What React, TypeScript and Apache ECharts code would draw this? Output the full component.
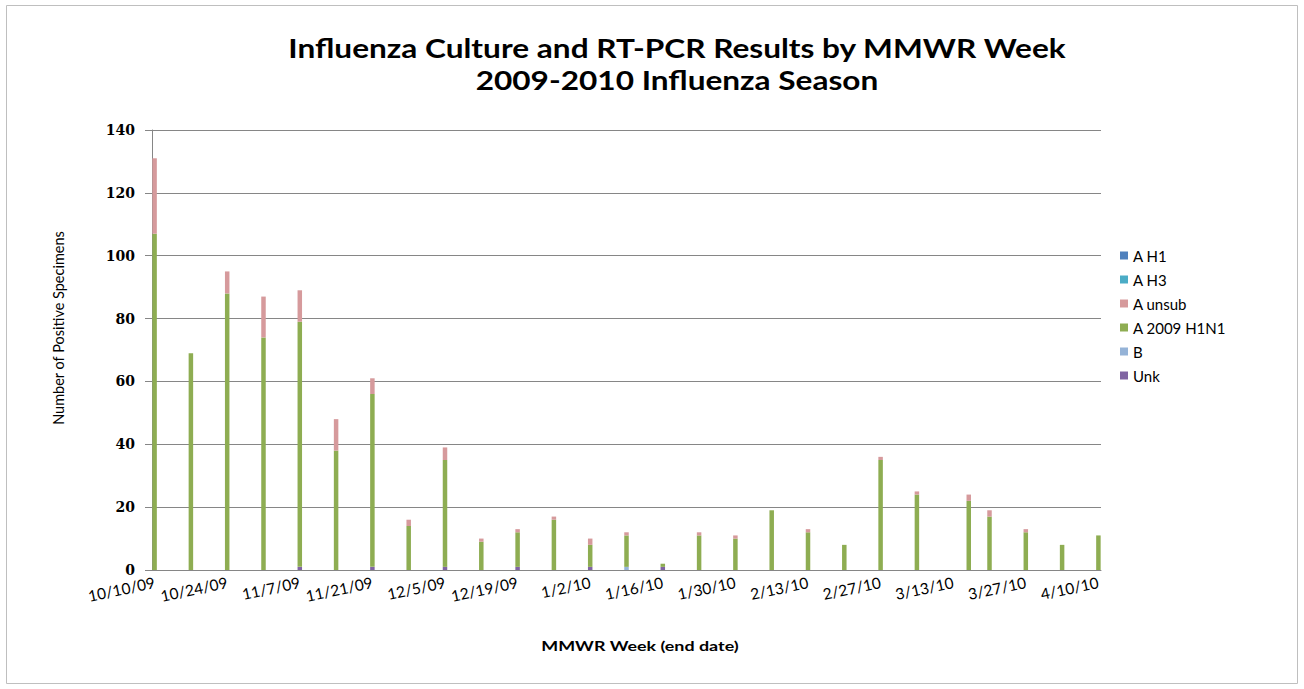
import React, { useEffect, useRef } from "react";
import * as echarts from "echarts";

// MMWR week end dates and positive specimen counts per subtype
const weekEnding = [
  "10/10/09", "10/17/09", "10/24/09", "10/31/09", "11/7/09", "11/14/09", "11/21/09",
  "11/28/09", "12/5/09", "12/12/09", "12/19/09", "12/26/09", "1/2/10", "1/9/10",
  "1/16/10", "1/23/10", "1/30/10", "2/6/10", "2/13/10", "2/20/10", "2/27/10",
  "3/6/10", "3/16/10", "3/20/10", "3/27/10", "4/3/10", "4/10/10",
];
const aH1 = [0, 0, 0, 0, 0, 0, 0, 0, 0, 0, 0, 0, 0, 0, 0, 0, 0, 0, 0, 0, 0, 0, 0, 0, 0, 0, 0];
const aH3 = [0, 0, 0, 0, 0, 0, 0, 0, 0, 0, 0, 0, 0, 0, 0, 0, 0, 0, 0, 0, 0, 0, 0, 0, 0, 0, 0];
const aUnsub = [24, 0, 7, 13, 10, 10, 5, 2, 4, 1, 1, 1, 2, 1, 0, 1, 1, 0, 1, 0, 1, 1, 2, 2, 1, 0, 0];
const a2009H1N1 = [107, 69, 88, 74, 78, 38, 55, 14, 34, 9, 11, 16, 7, 10, 1, 11, 10, 19, 12, 8, 35, 24, 22, 17, 12, 8, 11];
const typeB = [0, 0, 0, 0, 0, 0, 0, 0, 0, 0, 0, 0, 0, 1, 0, 0, 0, 0, 0, 0, 0, 0, 0, 0, 0, 0, 0];
const unk = [0, 0, 0, 0, 1, 0, 1, 0, 1, 0, 1, 0, 1, 0, 1, 0, 0, 0, 0, 0, 0, 0, 0, 0, 0, 0, 0];

const axisStart = "10/10/09";
const axisEnd = "4/10/10";
const labelEveryDays = 14;
const yMax = 140;
const yStep = 20;

const titleLines = ["Influenza Culture and RT-PCR Results by MMWR Week", "2009-2010 Influenza Season"];
const yAxisTitle = "Number of Positive Specimens";
const xAxisTitle = "MMWR Week (end date)";

const DAY = 86400000;
const parseDate = (s: string) => {
  const [m, d, y] = s.split("/").map(Number);
  return Date.UTC(2000 + y, m - 1, d);
};
const fmtDate = (t: number) => {
  const dt = new Date(t);
  const yy = String(dt.getUTCFullYear() % 100).padStart(2, "0");
  return `${dt.getUTCMonth() + 1}/${dt.getUTCDate()}/${yy}`;
};

const t0 = parseDate(axisStart);
const nDays = Math.round((parseDate(axisEnd) - t0) / DAY) + 1;
const dayCategories = Array.from({ length: nDays }, (_, i) => fmtDate(t0 + i * DAY));
const dayIndex = weekEnding.map((s) => Math.round((parseDate(s) - t0) / DAY));

const toDaily = (vals: number[]) => {
  const out: (number | null)[] = new Array(nDays).fill(null);
  vals.forEach((v, i) => {
    out[dayIndex[i]] = v;
  });
  return out;
};

// stacked bottom-to-top
const stackSeries = [
  { name: "Unk", data: unk, color: "#8064A2" },
  { name: "B", data: typeB, color: "#95B3D7" },
  { name: "A 2009 H1N1", data: a2009H1N1, color: "#8EAD52" },
  { name: "A unsub", data: aUnsub, color: "#D69A9C" },
  { name: "A H3", data: aH3, color: "#4BACC6" },
  { name: "A H1", data: aH1, color: "#4F81BD" },
];
const legendOrder = ["A H1", "A H3", "A unsub", "A 2009 H1N1", "B", "Unk"];

const FONT = "Lato, 'Liberation Sans', sans-serif";

export default function App() {
  const ref = useRef<HTMLDivElement>(null);

  useEffect(() => {
    if (!ref.current) return;
    const chart = echarts.init(ref.current, undefined, { renderer: "svg" });
    chart.setOption({
      animation: false,
      backgroundColor: "#ffffff",
      legend: {
        orient: "vertical",
        left: 1115,
        top: 243,
        itemWidth: 8,
        itemHeight: 8,
        itemGap: 9,
        icon: "rect",
        data: legendOrder,
        textStyle: { fontFamily: FONT, fontSize: 15, color: "#000" },
      },
      grid: { left: 152, right: 203, top: 130, bottom: 119 },
      xAxis: {
        type: "category",
        data: dayCategories,
        boundaryGap: true,
        axisLine: { lineStyle: { color: "#868686", width: 1 } },
        axisTick: { show: false },
        axisLabel: {
          interval: labelEveryDays - 1,
          rotate: 12,
          margin: 12,
          fontFamily: FONT,
          fontSize: 15.5,
          color: "#000",
        },
        splitLine: { show: false },
      },
      yAxis: {
        type: "value",
        min: 0,
        max: yMax,
        interval: yStep,
        axisLine: { show: true, lineStyle: { color: "#868686", width: 1 } },
        axisTick: { show: true, length: 7, lineStyle: { color: "#868686" } },
        axisLabel: {
          margin: 17,
          fontFamily: "'DejaVu Serif', serif",
          fontWeight: "bold",
          fontSize: 14,
          color: "#000",
        },
        splitLine: { lineStyle: { color: "#868686", width: 1 } },
      },
      series: stackSeries.map((s) => ({
        name: s.name,
        type: "bar",
        stack: "total",
        barWidth: 4.5,
        itemStyle: { color: s.color },
        data: toDaily(s.data),
      })),
      graphic: [
        {
          type: "rect",
          shape: { x: 6.5, y: 5.5, width: 1291, height: 678 },
          style: { fill: "none", stroke: "#bfbfbf", lineWidth: 1 },
          silent: true,
        },
        ...titleLines.map((t, i) => ({
          type: "text",
          x: 677,
          y: 47 + i * 32,
          scaleX: 1.17,
          style: {
            text: t,
            fontFamily: FONT,
            fontWeight: "bold",
            fontSize: 27,
            fill: "#000",
            align: "center",
            verticalAlign: "middle",
          },
        })),
        {
          type: "text",
          x: 58,
          y: 328,
          rotation: Math.PI / 2,
          style: {
            text: yAxisTitle,
            fontFamily: FONT,
            fontSize: 14.5,
            fill: "#000",
            align: "center",
            verticalAlign: "middle",
          },
        },
        {
          type: "text",
          x: 640,
          y: 645,
          scaleX: 1.28,
          style: {
            text: xAxisTitle,
            fontFamily: FONT,
            fontWeight: "bold",
            fontSize: 14,
            fill: "#000",
            align: "center",
            verticalAlign: "middle",
          },
        },
      ],
    });
    return () => chart.dispose();
  }, []);

  return (
    <div
      ref={ref}
      style={{ position: "fixed", left: 0, top: 0, width: 1304, height: 689, background: "#fff" }}
    />
  );
}
